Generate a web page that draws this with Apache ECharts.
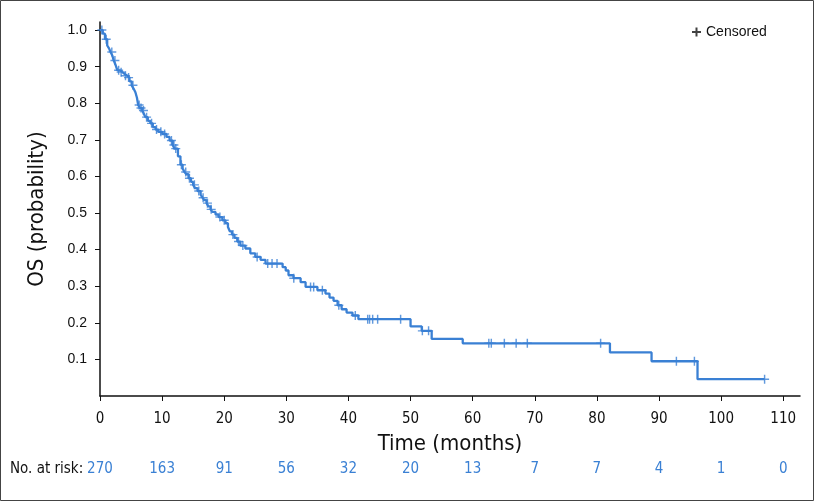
<!DOCTYPE html>
<html>
<head>
<meta charset="utf-8">
<script src="https://cdn.jsdelivr.net/npm/echarts@6/dist/echarts.min.js"></script>
<style>
html,body{margin:0;padding:0;background:#fff;}
#chart{width:814px;height:501px;}
</style>
</head>
<body>
<div id="chart"></div>
<script>
// Kaplan-Meier step data: time (months) of each drop and survival after it
var stepTimes = [0, 0.45, 0.8, 1.16, 1.45, 1.7, 2.0, 2.2, 2.5, 2.8, 3.15, 3.6, 3.95, 4.4, 4.75, 5.1, 5.4, 5.7, 5.95, 6.15, 6.45, 6.8, 7.1, 7.3, 7.7, 8.1, 8.5, 8.95, 9.4, 10.05, 10.7, 11.2, 11.7, 12.0, 12.55, 12.95, 13.3, 13.6, 13.9, 14.25, 14.65, 15.0, 15.3, 15.7, 16.2, 16.5, 16.8, 17.15, 17.45, 17.8, 18.1, 18.6, 19.1, 19.7, 20.2, 20.6, 20.9, 21.25, 21.65, 22.1, 22.6, 23.4, 24.2, 25.0, 25.85, 26.65, 29.4, 29.9, 30.35, 31.15, 32.3, 33.1, 35.0, 36.3, 36.95, 37.6, 38.25, 38.9, 39.7, 40.65, 41.6, 50.0, 51.8, 53.4, 58.4, 82.1, 88.8, 96.2, 107.0];
var stepSurv  = [1.0, 0.99, 0.975, 0.958, 0.95, 0.94, 0.93, 0.917, 0.905, 0.89, 0.885, 0.88, 0.875, 0.87, 0.86, 0.849, 0.84, 0.83, 0.815, 0.795, 0.787, 0.78, 0.77, 0.762, 0.752, 0.745, 0.735, 0.728, 0.722, 0.716, 0.708, 0.698, 0.686, 0.676, 0.655, 0.632, 0.622, 0.612, 0.606, 0.595, 0.585, 0.577, 0.568, 0.56, 0.55, 0.542, 0.535, 0.527, 0.518, 0.51, 0.503, 0.496, 0.489, 0.48, 0.472, 0.462, 0.45, 0.441, 0.432, 0.422, 0.411, 0.403, 0.39, 0.38, 0.372, 0.362, 0.352, 0.343, 0.33, 0.322, 0.311, 0.298, 0.289, 0.28, 0.269, 0.26, 0.248, 0.237, 0.228, 0.22, 0.21, 0.19, 0.178, 0.156, 0.144, 0.119, 0.095, 0.046, 0.046];
// Censoring times (months)
var censorTimes = [0.3, 1.0, 1.9, 2.4, 3.0, 3.4, 4.1, 4.6, 5.3, 6.3, 6.6, 7.0, 7.5, 8.3, 9.1, 9.8, 10.4, 11.5, 11.9, 12.2, 13.1, 13.8, 14.4, 15.2, 15.9, 16.6, 17.3, 17.9, 19.3, 20.0, 21.4, 22.3, 23.0, 25.3, 27.0, 27.7, 28.5, 31.2, 33.9, 34.4, 35.8, 38.45, 41.1, 43.1, 43.4, 43.9, 44.7, 48.4, 51.9, 52.9, 62.6, 63.0, 65.1, 67.0, 68.8, 80.6, 92.8, 95.7, 107.0];
// Axis ticks and risk table
var xTicks = [0, 10, 20, 30, 40, 50, 60, 70, 80, 90, 100, 110];
var yTicks = [0.1, 0.2, 0.3, 0.4, 0.5, 0.6, 0.7, 0.8, 0.9, 1.0];
var atRisk = [270, 163, 91, 56, 32, 20, 13, 7, 7, 4, 1, 0];

var BLUE = '#3a80d4';
var NARROW = "'Liberation Sans Narrow', 'DejaVu Sans Condensed', 'Roboto', sans-serif";

function survAt(t) {
  var s = stepSurv[0];
  for (var i = 0; i < stepTimes.length; i++) {
    if (stepTimes[i] <= t) s = stepSurv[i]; else break;
  }
  return s;
}

var lineData = stepTimes.map(function (t, i) { return [t, stepSurv[i]]; });
var censorData = censorTimes.map(function (t) { return [t, survAt(t)]; });
var plusPath = 'path://M4.2,0H5.8V4.2H10V5.8H5.8V10H4.2V5.8H0V4.2H4.2Z';

var chart = echarts.init(document.getElementById('chart'), null, {renderer: 'canvas'});
chart.setOption({
  animation: false,
  backgroundColor: '#fff',
  grid: {left: 100, top: 22, width: 700, height: 374, outerBoundsMode: 'none', containLabel: false},
  legend: {
    left: 687, top: 20,
    itemWidth: 9, itemHeight: 9, itemGap: 6,
    textStyle: {fontFamily: "'Liberation Sans', Arial, sans-serif", fontSize: 14, color: '#111'},
    data: [{name: 'Censored', icon: 'path://M3.9,0H6.1V3.9H10V6.1H6.1V10H3.9V6.1H0V3.9H3.9Z', itemStyle: {color: '#111'}}]
  },
  xAxis: [{
    type: 'value', min: 0, max: 112.7,
    name: 'Time (months)', nameLocation: 'middle', nameGap: 37,
    nameTextStyle: {fontFamily: NARROW, fontSize: 22, color: '#111'},
    axisLine: {show: true, lineStyle: {color: '#111', width: 1.5}},
    axisTick: {show: true, customValues: xTicks, length: 5, lineStyle: {color: '#111'}},
    axisLabel: {customValues: xTicks, margin: 16, fontFamily: NARROW, fontSize: 15, color: '#111'},
    splitLine: {show: false}
  }, {
    type: 'value', min: 0, max: 112.7, position: 'bottom', offset: 66,
    axisLine: {show: false}, axisTick: {show: false}, splitLine: {show: false},
    axisLabel: {
      customValues: xTicks, margin: 0, fontFamily: NARROW, fontSize: 15, color: BLUE,
      formatter: function (v) { var i = xTicks.indexOf(v); return i >= 0 ? String(atRisk[i]) : ''; }
    }
  }],
  yAxis: {
    type: 'value', min: 0, max: 1.022,
    name: 'OS (probability)', nameLocation: 'middle', nameGap: 52, nameRotate: 90,
    nameTextStyle: {fontFamily: NARROW, fontSize: 22, color: '#111'},
    axisLine: {show: true, lineStyle: {color: '#111', width: 1.5}},
    axisTick: {show: true, customValues: yTicks, length: 5, lineStyle: {color: '#111'}},
    axisLabel: {customValues: yTicks, margin: 13, fontFamily: "'Liberation Sans', Arial, sans-serif", fontSize: 14, color: '#111',
      formatter: function (v) { return v.toFixed(1); }},
    splitLine: {show: false}
  },
  graphic: [
    {type: 'rect', shape: {x: 0.5, y: 0.5, width: 813, height: 500}, style: {fill: 'none', stroke: '#444', lineWidth: 1}, silent: true},
    {type: 'text', left: 10, top: 462, style: {text: 'No. at risk:', font: '15px ' + NARROW, fill: '#111'}}
  ],
  series: [{
    name: 'OS', type: 'line', step: 'end', data: lineData,
    showSymbol: false, symbol: 'none',
    lineStyle: {color: BLUE, width: 2.3}, z: 2
  }, {
    name: 'Censored', type: 'scatter', data: censorData,
    symbol: plusPath, symbolSize: 9,
    itemStyle: {color: BLUE}, z: 3
  }]
});
</script>
</body>
</html>
